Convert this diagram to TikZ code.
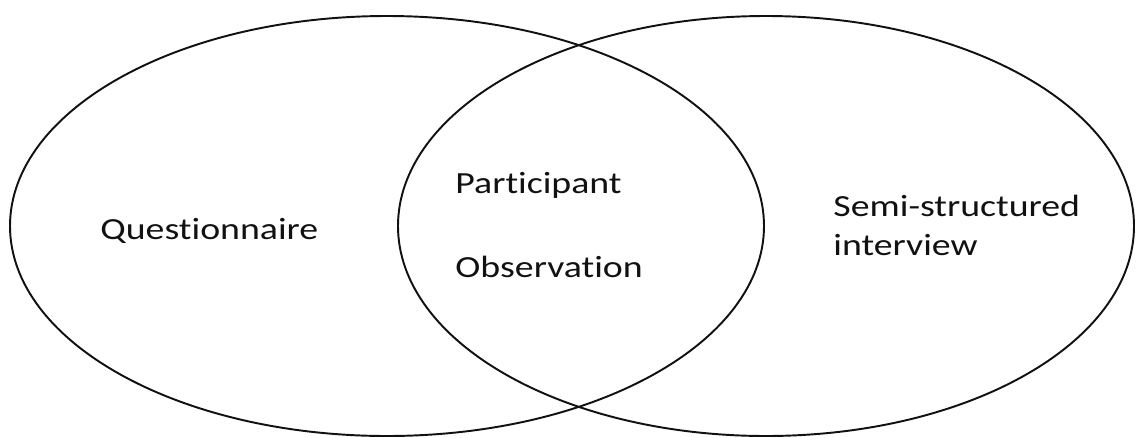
\documentclass[tikz,border=0pt]{standalone}
\usepackage{fontspec}
\setmainfont{Carlito}[Ligatures=NoCommon]
\usetikzlibrary{positioning}
\definecolor{Ink}{HTML}{111111}

\begin{document}
\begin{tikzpicture}[x=0.02cm,y=-0.02cm,
    setline/.style={draw=Ink, line width=1.1pt},
    setlabel/.style={anchor=base west, inner sep=0pt, xscale=1.23, font=\fontsize{17.5}{21}\selectfont, text=Ink}]
  \useasboundingbox (0,0) rectangle (1136,437);
  \foreach \cx/\rx in {387/377,766/368} {
    \draw[setline] (\cx,226) ellipse [x radius=\rx, y radius=210];
  }
  \node[setlabel] (quest) at (100,239) {Questionnaire};
  \node[setlabel] (part) at (455,193) {Participant};
  \node[setlabel] (obs) at (455,277) {Observation};
  \node[setlabel] (semi) at (833,216) {Semi-structured};
  \node[setlabel] (inter) at (833,255) {interview};
\end{tikzpicture}
\end{document}
